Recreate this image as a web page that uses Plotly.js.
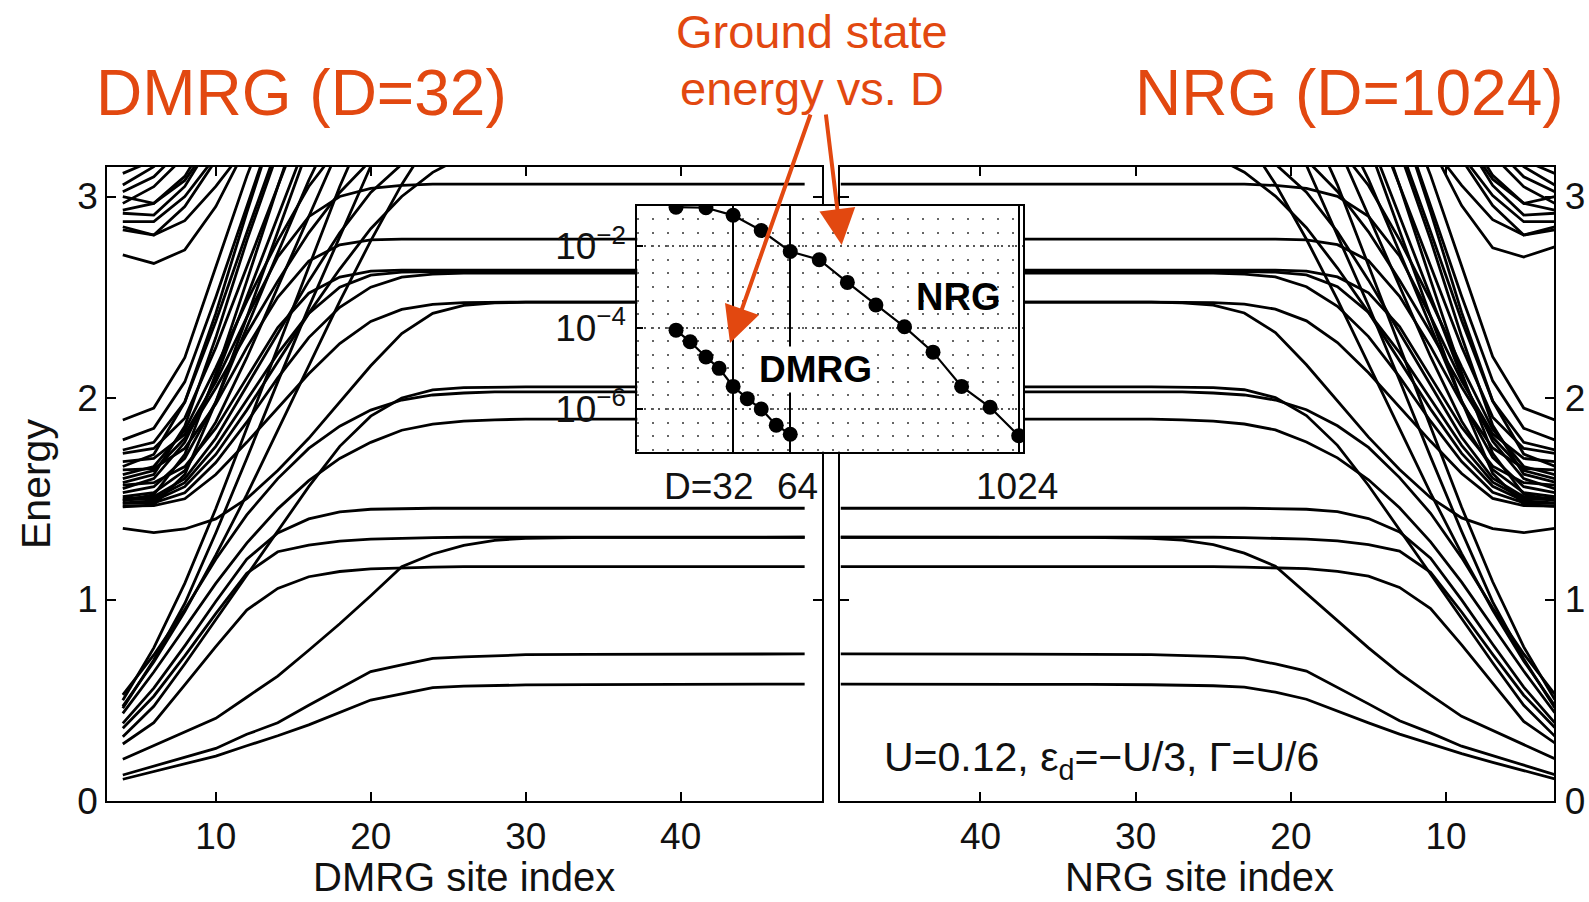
<!DOCTYPE html>
<html><head><meta charset="utf-8">
<script src="https://cdn.plot.ly/plotly-3.0.1.min.js"></script>
<style>html,body{margin:0;padding:0;background:#fff;}#chart{width:1589px;height:902px;}</style>
</head><body><div id="chart"></div>
<script>
// ---------- site indices ----------
const sitesDMRG = [4,6,8,10,12,14,16,18,20,22,24,26,28,30,34,40,48];
const sitesNRG  = [3,5,7,9,11,13,15,17,19,21,23,25,27,29,33,39,49];

// ---------- DMRG energy flow (values at sitesDMRG) ----------
const dA = [0.108,0.146,0.185,0.223,0.274,0.324,0.378,0.440,0.501,0.532,0.563,0.570,0.574,0.576,0.578,0.580,0.580];
const dB = [0.129,0.173,0.217,0.261,0.331,0.388,0.475,0.558,0.642,0.675,0.708,0.715,0.722,0.726,0.728,0.730,0.730];
const dC = [0.207,0.275,0.342,0.410,0.515,0.620,0.748,0.880,1.019,1.163,1.226,1.269,1.294,1.304,1.308,1.309,1.309];
const dD = [0.283,0.389,0.576,0.766,0.948,1.055,1.113,1.139,1.152,1.158,1.161,1.163,1.163,1.163,1.163,1.163,1.163];
const dE = [0.361,0.520,0.720,0.930,1.130,1.237,1.270,1.290,1.300,1.305,1.307,1.309,1.309,1.309,1.309,1.309,1.309];
const dF = [0.385,0.560,0.770,0.990,1.200,1.330,1.400,1.435,1.448,1.452,1.453,1.453,1.453,1.453,1.453,1.453,1.453];
const dG = [0.527,0.725,0.950,1.200,1.420,1.600,1.750,1.860,1.940,1.990,2.015,2.025,2.030,2.030,2.030,2.030,2.030];
const dH = [0.435,0.640,0.860,1.080,1.280,1.450,1.590,1.700,1.780,1.840,1.870,1.885,1.892,1.895,1.895,1.895,1.895];
const dI = [0.319,0.470,0.680,0.900,1.120,1.340,1.560,1.760,1.910,2.000,2.040,2.052,2.055,2.055,2.055,2.055,2.055];
const dJ = [1.353,1.332,1.350,1.400,1.500,1.640,1.800,1.980,2.160,2.320,2.420,2.460,2.472,2.476,2.476,2.476,2.476];
const dK = [1.464,1.466,1.500,1.620,1.780,1.950,2.120,2.270,2.380,2.440,2.465,2.473,2.476,2.476,2.476,2.476,2.476];
const dL = [1.477,1.480,1.530,1.680,1.880,2.100,2.300,2.450,2.550,2.600,2.615,2.620,2.620,2.620,2.620,2.620,2.620];
const dM = [1.494,1.500,1.580,1.760,1.990,2.220,2.420,2.550,2.610,2.625,2.627,2.627,2.627,2.627,2.627,2.627,2.627];
const dN = [1.568,1.580,1.660,1.850,2.100,2.350,2.520,2.600,2.630,2.635,2.635,2.635,2.635,2.635,2.635,2.635,2.635];
const dO = [1.643,1.650,1.750,1.970,2.250,2.500,2.680,2.760,2.785,2.789,2.789,2.789,2.789,2.789,2.789,2.789,2.789];
const dP = [1.684,1.700,1.820,2.080,2.400,2.700,2.900,3.000,3.040,3.055,3.062,3.062,3.062,3.062,3.062,3.062,3.062];
const dQ = [1.725,1.750,1.900,2.250,2.650,3.050,3.500];
const dR = [1.742,1.780,1.980,2.380,2.820,3.250];
const dS = [1.792,1.850,2.080,2.500,2.950,3.400];
const dT = [1.891,1.950,2.200,2.650,3.100,3.500];
const dU = [1.510,1.530,1.640,1.880,2.200,2.550,2.900,3.250];
const dV = [1.530,1.560,1.700,1.980,2.350,2.720,3.080,3.400];
const dW = [1.550,1.600,1.780,2.100,2.500,2.900,3.300];
const dX = [1.600,1.640,1.800,2.050,2.320,2.580,2.820,3.020,3.180,3.300];
const dY = [1.620,1.660,1.840,2.150,2.480,2.780,3.050,3.250];
const dZ = [1.480,1.490,1.560,1.720,1.940,2.180,2.420,2.640,2.840,3.000,3.120,3.200];
const dAA = [1.500,1.510,1.600,1.800,2.060,2.320,2.580,2.820,3.020,3.160,3.250];
const dAB = [0.460,0.700,0.980,1.330,1.700,2.080,2.450,2.800,3.150,3.400];
const dAC = [0.500,0.760,1.080,1.450,1.850,2.250,2.650,3.050,3.400];
const dAD = [0.470,0.690,0.940,1.220,1.520,1.840,2.160,2.480,2.780,3.060,3.300];
const dAE = [2.710,2.668,2.735,2.950,3.250];
const dAF = [2.835,2.809,2.880,3.050,3.250];
const dAG = [2.850,2.809,2.950,3.180];
const dAH = [2.875,2.875,3.000,3.200];
const dAI = [2.917,2.908,3.050,3.300];
const dAJ = [2.933,2.966,3.100,3.350];
const dAK = [2.966,3.049,3.200];
const dAL = [2.999,2.966,3.080,3.300];
const dAM = [3.024,3.098,3.250];
const dAN = [3.057,3.148,3.300];
const dAO = [3.115,3.180,3.300];
const dAP = [1.460,1.470,1.620,1.980,2.400,2.820,3.250];
const dAQ = [1.490,1.520,1.720,2.120,2.580,3.050,3.450];
const dAR = [1.580,1.620,1.860,2.300,2.780,3.220];
const dAS = [1.660,1.720,1.980,2.420,2.920,3.400];
const dmrgCurves = [dA,dB,dC,dD,dE,dF,dG,dH,dI,dJ,dK,dL,dM,dN,dO,dP,dQ,dR,dS,dT,dU,dV,dW,dX,dY,dZ,dAA,dAB,dAC,dAD,dAE,dAF,dAG,dAH,dAI,dAJ,dAK,dAL,dAM,dAN,dAO,dAP,dAQ,dAR,dAS];

// ---------- NRG energy flow (values at sitesNRG) ----------
const nA = [0.110,0.150,0.192,0.235,0.282,0.332,0.388,0.448,0.505,0.540,0.565,0.572,0.575,0.577,0.579,0.580,0.580];
const nB = [0.131,0.178,0.225,0.272,0.338,0.398,0.482,0.565,0.645,0.680,0.710,0.718,0.723,0.726,0.728,0.730,0.730];
const nC = [0.210,0.280,0.350,0.420,0.525,0.635,0.760,0.895,1.030,1.165,1.230,1.272,1.295,1.304,1.308,1.309,1.309];
const nD = [0.288,0.395,0.585,0.775,0.955,1.060,1.116,1.140,1.153,1.158,1.161,1.163,1.163,1.163,1.163,1.163,1.163];
const nE = [0.365,0.525,0.728,0.938,1.135,1.240,1.272,1.291,1.300,1.305,1.307,1.309,1.309,1.309,1.309,1.309,1.309];
const nF = [0.388,0.565,0.778,0.998,1.205,1.335,1.402,1.436,1.448,1.452,1.453,1.453,1.453,1.453,1.453,1.453,1.453];
const nG = [0.530,0.730,0.958,1.208,1.428,1.605,1.755,1.862,1.942,1.990,2.015,2.025,2.030,2.030,2.030,2.030,2.030];
const nH = [0.438,0.645,0.866,1.086,1.286,1.455,1.594,1.703,1.782,1.842,1.871,1.885,1.892,1.895,1.895,1.895,1.895];
const nI = [0.322,0.475,0.686,0.906,1.126,1.346,1.566,1.765,1.913,2.002,2.041,2.052,2.055,2.055,2.055,2.055,2.055];
const nJ = [1.353,1.332,1.352,1.405,1.505,1.645,1.806,1.985,2.165,2.325,2.422,2.461,2.472,2.476,2.476,2.476,2.476];
const nK = [1.464,1.466,1.502,1.625,1.785,1.955,2.125,2.275,2.383,2.441,2.466,2.473,2.476,2.476,2.476,2.476,2.476];
const nL = [1.477,1.480,1.532,1.685,1.885,2.105,2.305,2.455,2.552,2.601,2.615,2.620,2.620,2.620,2.620,2.620,2.620];
const nM = [1.494,1.500,1.582,1.765,1.995,2.225,2.425,2.552,2.611,2.625,2.627,2.627,2.627,2.627,2.627,2.627,2.627];
const nN = [1.568,1.580,1.662,1.855,2.105,2.355,2.522,2.601,2.630,2.635,2.635,2.635,2.635,2.635,2.635,2.635,2.635];
const nO = [1.643,1.650,1.752,1.975,2.255,2.505,2.682,2.761,2.785,2.789,2.789,2.789,2.789,2.789,2.789,2.789,2.789];
const nP = [1.684,1.700,1.822,2.085,2.405,2.705,2.902,3.001,3.040,3.055,3.062,3.062,3.062,3.062,3.062,3.062,3.062];
const nQ = [1.725,1.750,1.905,2.255,2.655,3.055,3.500];
const nR = [1.742,1.780,1.985,2.385,2.825,3.255];
const nS = [1.792,1.850,2.085,2.505,2.955,3.400];
const nT = [1.891,1.950,2.205,2.655,3.105,3.500];
const nU = [1.510,1.530,1.645,1.885,2.205,2.555,2.905,3.255];
const nV = [1.530,1.560,1.705,1.985,2.355,2.725,3.085,3.400];
const nW = [1.550,1.600,1.785,2.105,2.505,2.905,3.300];
const nX = [1.600,1.640,1.805,2.055,2.325,2.585,2.825,3.025,3.182,3.300];
const nY = [1.620,1.660,1.845,2.155,2.485,2.785,3.055,3.250];
const nZ = [1.480,1.490,1.562,1.725,1.945,2.185,2.425,2.645,2.845,3.002,3.121,3.200];
const nAA = [1.500,1.510,1.602,1.805,2.065,2.325,2.585,2.825,3.022,3.161,3.250];
const nAB = [0.463,0.705,0.988,1.338,1.708,2.088,2.458,2.808,3.155,3.400];
const nAC = [0.503,0.765,1.088,1.458,1.858,2.258,2.658,3.058,3.400];
const nAD = [0.473,0.695,0.948,1.228,1.528,1.848,2.168,2.488,2.788,3.062,3.300];
const nAE = [2.750,2.700,2.745,2.955,3.255];
const nAF = [2.835,2.809,2.885,3.055,3.255];
const nAG = [2.850,2.809,2.955,3.185];
const nAH = [2.875,2.875,3.005,3.205];
const nAI = [2.917,2.908,3.055,3.305];
const nAJ = [2.933,2.966,3.105,3.355];
const nAK = [2.966,3.049,3.205];
const nAL = [2.999,2.966,3.085,3.305];
const nAM = [3.024,3.098,3.255];
const nAN = [3.057,3.148,3.305];
const nAO = [3.115,3.180,3.305];
const nAP = [1.462,1.472,1.625,1.985,2.405,2.825,3.255];
const nAQ = [1.492,1.522,1.725,2.125,2.585,3.055,3.450];
const nAR = [1.582,1.622,1.865,2.305,2.785,3.225];
const nAS = [1.662,1.722,1.985,2.425,2.925,3.400];
const nrgCurves = [nA,nB,nC,nD,nE,nF,nG,nH,nI,nJ,nK,nL,nM,nN,nO,nP,nQ,nR,nS,nT,nU,nV,nW,nX,nY,nZ,nAA,nAB,nAC,nAD,nAE,nAF,nAG,nAH,nAI,nAJ,nAK,nAL,nAM,nAN,nAO,nAP,nAQ,nAR,nAS];

// ---------- inset: ground state energy vs D ----------
const insetDimDMRG = [16,19,23,27,32,38,45,54,64];
const insetErrDMRG = [8.7e-5,4.5e-5,1.9e-5,1.0e-5,3.6e-6,1.8e-6,1.0e-6,4.0e-7,2.4e-7];
const insetDimNRG  = [16,23,32,45,64,91,128,181,256,362,512,724,1024];
const insetErrNRG  = [0.092,0.089,0.058,0.0245,7.5e-3,4.7e-3,1.3e-3,3.6e-4,1.05e-4,2.5e-5,3.6e-6,1.1e-6,2.2e-7];
const insetDimMarks = [32,64,1024];
const insetYTickVals = [1e-2,1e-4,1e-6];
const insetYTickText = ['10<sup>−2</sup>','10<sup>−4</sup>','10<sup>−6</sup>'];

// ---------- tick / label text ----------
const siteTicks = [10,20,30,40];
const energyTicks = [0,1,2,3];

const FONT = 'Liberation Sans, Arial, Helvetica, sans-serif';
const RED = 'rgb(226,72,16)';
const W = 1589, H = 902;
const px = v => v / W;
const py = v => 1 - v / H;

const traces = [];
dmrgCurves.forEach(c => traces.push({
  x: sitesDMRG.slice(0, c.length), y: c, xaxis: 'x', yaxis: 'y', mode: 'lines',
  line: {color: '#000', width: 2.8}, hoverinfo: 'skip', showlegend: false
}));
nrgCurves.forEach(c => traces.push({
  x: sitesNRG.slice(0, c.length), y: c, xaxis: 'x2', yaxis: 'y2', mode: 'lines',
  line: {color: '#000', width: 2.8}, hoverinfo: 'skip', showlegend: false
}));
traces.push({x: insetDimNRG, y: insetErrNRG, xaxis: 'x3', yaxis: 'y3', mode: 'lines+markers',
  line: {color: '#000', width: 2.2}, marker: {color: '#000', size: 15}, hoverinfo: 'skip', showlegend: false});
traces.push({x: insetDimDMRG, y: insetErrDMRG, xaxis: 'x3', yaxis: 'y3', mode: 'lines+markers',
  line: {color: '#000', width: 2.2}, marker: {color: '#000', size: 15}, hoverinfo: 'skip', showlegend: false});

// dotted minor grid rows for the inset (axis styling)
const insetGridRows = [];
for (let k = -7; k <= -1; k++) { [1, 2.154, 4.642].forEach(m => insetGridRows.push(m * Math.pow(10, k))); }

const mainAxis = {
  showline: true, linecolor: '#000', linewidth: 2, mirror: 'allticks',
  ticks: 'inside', ticklen: 9, tickwidth: 2, tickcolor: '#000',
  showgrid: false, zeroline: false, fixedrange: true,
  tickfont: {family: FONT, size: 37, color: '#111'}
};

function note(text, x, y, size, color, extra) {
  return Object.assign({text: text, x: px(x), y: py(y), xref: 'paper', yref: 'paper',
    xanchor: 'center', yanchor: 'middle', showarrow: false,
    font: {family: FONT, size: size, color: color}}, extra || {});
}

const layout = {
  width: W, height: H, margin: {l: 0, r: 0, t: 0, b: 0},
  paper_bgcolor: '#fff', plot_bgcolor: '#fff',
  font: {family: FONT, color: '#000'},
  showlegend: false,
  xaxis: Object.assign({}, mainAxis, {domain: [px(107.3), px(821.7)], range: [3, 49.1], anchor: 'y',
    tickmode: 'array', tickvals: siteTicks, ticklabelstandoff: 2}),
  yaxis: Object.assign({}, mainAxis, {domain: [py(801), py(166.7)], range: [0, 3.148], anchor: 'x',
    tickmode: 'array', tickvals: energyTicks, ticklabelstandoff: 0}),
  xaxis2: Object.assign({}, mainAxis, {domain: [px(840), px(1554.3)], range: [49.05, 3.03], anchor: 'y2',
    tickmode: 'array', tickvals: siteTicks, ticklabelstandoff: 2}),
  yaxis2: Object.assign({}, mainAxis, {domain: [py(801), py(166.7)], range: [0, 3.148], anchor: 'x2', side: 'right',
    tickmode: 'array', tickvals: energyTicks, ticklabelstandoff: 1}),
  xaxis3: {domain: [px(637.3), px(1023)], type: 'log', range: [1.0, 3.033], anchor: 'y3',
    showline: true, linecolor: '#000', linewidth: 2, mirror: true, ticks: '',
    tickmode: 'array', tickvals: insetDimMarks, showticklabels: false,
    showgrid: true, gridcolor: '#000', gridwidth: 2, zeroline: false, fixedrange: true},
  yaxis3: {domain: [py(451.7), py(205.7)], type: 'log', range: [-7.05, -1.0], anchor: 'x3',
    showline: true, linecolor: '#000', linewidth: 2, mirror: true,
    ticks: 'inside', ticklen: 6, tickwidth: 2, tickcolor: '#000',
    tickmode: 'array', tickvals: insetYTickVals, ticktext: insetYTickText,
    tickfont: {family: FONT, size: 37, color: '#111'}, ticklabelstandoff: 2,
    showgrid: true, gridcolor: '#555', gridwidth: 2, griddash: '2px,5px',
    minor: {tickmode: 'array', tickvals: insetGridRows, showgrid: true, gridcolor: '#666', gridwidth: 2, griddash: '2px,13px', ticks: ''},
    zeroline: false, fixedrange: true},
  annotations: [
    note('DMRG (D=32)', 301, 93, 64, RED),
    note('NRG (D=1024)', 1349, 93, 64, RED),
    note('Ground state', 812, 31, 47, RED),
    note('energy vs. D', 812, 89, 47, RED),
    {text: '', x: px(730), y: py(343), xref: 'paper', yref: 'paper', showarrow: true,
      ax: 81, ay: -230, arrowcolor: RED, arrowwidth: 4, arrowhead: 2, arrowsize: 1.8, standoff: 0},
    {text: '', x: px(841.7), y: py(245), xref: 'paper', yref: 'paper', showarrow: true,
      ax: -16, ay: -132, arrowcolor: RED, arrowwidth: 4, arrowhead: 2, arrowsize: 1.8, standoff: 0},
    note('<b>DMRG</b>', 815, 370, 37, '#000', {bgcolor: '#fff', borderpad: 2}),
    note('<b>NRG</b>', 958, 297, 38, '#000'),
    note('D=32', 755, 486, 37, '#111', {xanchor: 'right'}),
    note('64', 797, 486, 37, '#111'),
    note('1024', 1017, 486, 37, '#111'),
    note('U=0.12, ε<sub>d</sub>=−U/3, Γ=U/6', 1101, 760, 41, '#111'),
    note('Energy', 36, 484, 41, '#111', {textangle: -90}),
    note('DMRG site index', 464, 877, 40, '#111'),
    note('NRG site index', 1199, 877, 40, '#111')
  ]
};

Plotly.newPlot('chart', traces, layout, {staticPlot: true, displayModeBar: false});
</script></body></html>
